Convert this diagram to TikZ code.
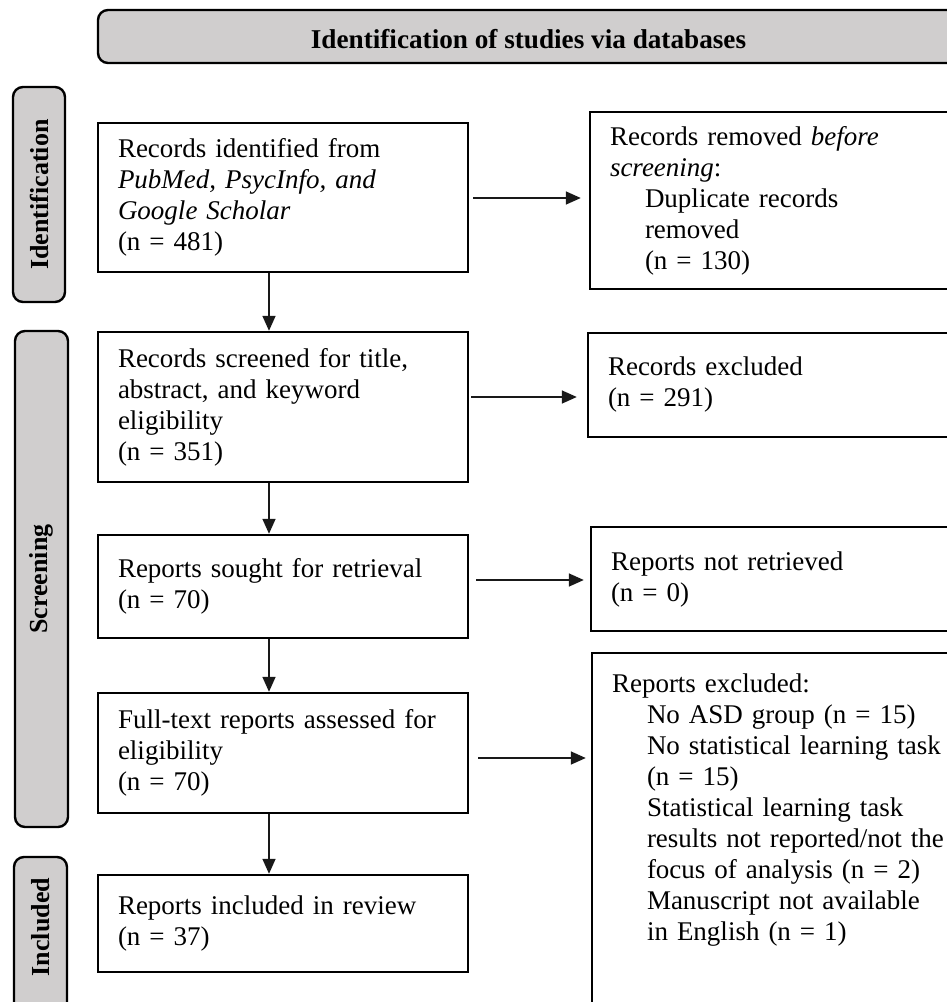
\documentclass[tikz,border=0pt]{standalone}
\usepackage{fontspec}
\setmainfont{Liberation Serif}
\usetikzlibrary{arrows.meta}
\definecolor{hdrgray}{RGB}{208,206,206}
\tikzset{
  box/.style={draw=black, line width=2.4pt, align=left, inner xsep=20pt, inner ysep=0pt,
    font=\fontsize{27}{31}\selectfont},
  lbox/.style={box, text width=330pt, minimum width=370pt},
  rbox/.style={box, text width=335pt, minimum width=375pt},
  sidebox/.style={draw=black, line width=2.4pt, fill=hdrgray, rounded corners=10pt},
  sidenode/.style={sidebox, rotate=90, inner sep=0pt, font=\fontsize{26}{30}\selectfont\bfseries},
  sidetext/.style={rotate=90, inner sep=0pt, font=\fontsize{26}{30}\selectfont\bfseries},
  hdrtext/.style={inner sep=0pt, font=\fontsize{27.2}{31}\selectfont\bfseries},
  arr/.style={-{Triangle[length=15pt,width=13pt]}, line width=1.6pt, draw=black!90},
}
\begin{document}
\begin{tikzpicture}[x=1pt,y=1pt]
\useasboundingbox (0,0) rectangle (947,-1002);
\clip (0,0) rectangle (947,-1002);
\fill[white] (0,0) rectangle (947,-1002);

% header
\draw[sidebox] (98,-10) rectangle (990,-63);
\node[hdrtext, anchor=base] (hdr) at (528.5,-48) {Identification of studies via databases};

% side labels
\node[sidenode, minimum width=215pt, minimum height=52pt] (idl) at (39,-194.5) {Identification};
\node[sidenode, minimum width=496pt, minimum height=53pt] (scl) at (41.5,-579) {Screening};
\draw[sidebox] (14,-857) rectangle (67,-1030);
\node[sidetext] (inc) at (40.5,-927) {Included};

% left column
\node[lbox, minimum height=149pt] (b1) at (283,-197.5)
  {Records identified from\\ \textit{PubMed, PsycInfo, and}\\ \textit{Google Scholar}\\ (n = 481)};
\node[lbox, minimum height=150pt] (b2) at (283,-407)
  {Records screened for title,\\ abstract, and keyword\\ eligibility\\ (n = 351)};
\node[lbox, minimum height=103pt] (b3) at (283,-586.5)
  {Reports sought for retrieval\\ (n = 70)};
\node[lbox, minimum height=120pt] (b4) at (283,-753)
  {Full-text reports assessed for\\ eligibility\\ (n = 70)};
\node[lbox, minimum height=97pt] (b5) at (283,-923.5)
  {Reports included in review\\ (n = 37)};

% right column
\node[rbox, minimum height=177pt] (r1) at (777.5,-200.5)
  {Records removed \textit{before}\\ \textit{screening}:\\ \hspace*{35pt}Duplicate records\\ \hspace*{35pt}removed\\ \hspace*{35pt}(n = 130)};
\node[rbox, minimum height=104pt] (r2) at (775.5,-385)
  {Records excluded\\ (n = 291)};
\node[rbox, minimum height=104pt] (r3) at (778.5,-579)
  {Reports not retrieved\\ (n = 0)};
\node[rbox, minimum height=367pt] (r4) at (779.5,-836.5)
  {\parbox[c][326pt][t]{335pt}{\raggedright Reports excluded:\\
   \hspace*{35pt}No ASD group (n = 15)\\
   \hspace*{35pt}No statistical learning task\\
   \hspace*{35pt}(n = 15)\\
   \hspace*{35pt}Statistical learning task\\
   \hspace*{35pt}results not reported/not the\\
   \hspace*{35pt}focus of analysis (n = 2)\\
   \hspace*{35pt}Manuscript not available\\
   \hspace*{35pt}in English (n = 1)}};

% vertical arrows
\draw[arr] ([xshift=-14pt]b1.south) -- ([xshift=-14pt]b2.north);
\draw[arr] ([xshift=-14pt]b2.south) -- ([xshift=-14pt]b3.north);
\draw[arr] ([xshift=-14pt]b3.south) -- ([xshift=-14pt]b4.north);
\draw[arr] ([xshift=-14pt]b4.south) -- ([xshift=-14pt]b5.north);

% horizontal arrows
\draw[arr] ([shift={(4,-0.5)}]b1.east) -- ([shift={(-8,2.5)}]r1.west);
\draw[arr] ([shift={(2,10)}]b2.east) -- ([shift={(-10,-12)}]r2.west);
\draw[arr] ([shift={(7,6.5)}]b3.east) -- ([shift={(-6,-1)}]r3.west);
\draw[arr] ([shift={(9,-5)}]b4.east) -- ([shift={(-5,78.5)}]r4.west);
\end{tikzpicture}
\end{document}
